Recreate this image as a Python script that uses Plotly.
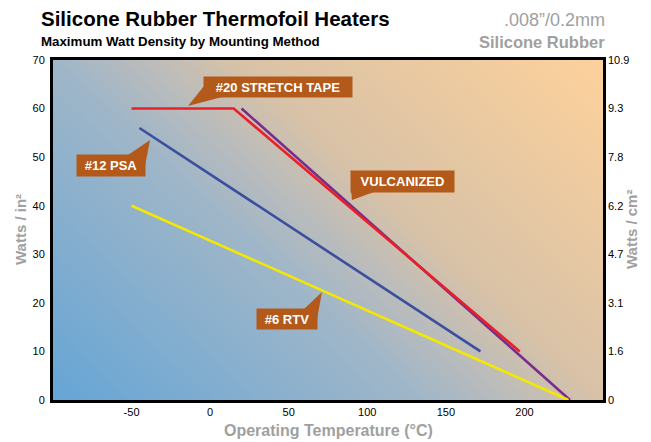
import plotly.graph_objects as go

# ---------------- data ----------------
stretch_x = [-50, 15, 197]
stretch_y = [60, 60, 10]
vulc_x = [20, 229]
vulc_y = [60, 0]
psa_x = [-45, 172]
psa_y = [56, 10]
rtv_x = [-50, 228]
rtv_y = [40, 0]

x_ticks = [-50, 0, 50, 100, 150, 200]
x_labels = ["-50", "0", "50", "100", "150", "200"]
y_ticks = [0, 10, 20, 30, 40, 50, 60, 70]
cm_labels = ["0", "1.6", "3.1", "4.7", "6.2", "7.8", "9.3", "10.9"]

# ---------------- layout geometry (page pixels) ----------------
OFF = 8                      # default body margin of the page
W, H = 651, 442              # window
PL, PR, PT, PB = 53, 603, 60, 400   # plot area in page pixels
X0, X1 = -100, 250
Y0, Y1 = 0, 70
PW, PH = PR - PL, PB - PT

def dx(px):
    return X0 + (px - PL) * (X1 - X0) / PW

def dy(py):
    return Y0 + (PB - py) * (Y1 - Y0) / PH

def paper_x(px):
    return (px - PL) / PW

def paper_y(py):
    return (PB - py) / PH

FONT = "Liberation Sans, Arial, sans-serif"
BROWN = "#b35a1a"
GRAY = "#a0a0a0"

fig = go.Figure()

# gradient background
fig.add_trace(go.Heatmap(
    x=[X0, X1], y=[Y0, Y1], z=[[0, 0.6], [0.4, 1.0]],
    zsmooth="best", showscale=False, hoverinfo="skip",
    colorscale=[[0, "#66a5d6"], [0.4, "#9fb6c8"], [0.5, "#bbbcbb"],
                [0.6, "#d8c2a7"], [1, "#fed19b"]],
    zmin=0, zmax=1,
))

line_w = 2.6
fig.add_trace(go.Scatter(x=vulc_x, y=vulc_y, mode="lines",
                         line=dict(color="#7a2c8c", width=line_w), name="Vulcanized"))
fig.add_trace(go.Scatter(x=stretch_x, y=stretch_y, mode="lines",
                         line=dict(color="#e8202a", width=line_w), name="#20 Stretch Tape"))
fig.add_trace(go.Scatter(x=psa_x, y=psa_y, mode="lines",
                         line=dict(color="#3a4f9f", width=line_w), name="#12 PSA"))
fig.add_trace(go.Scatter(x=rtv_x, y=rtv_y, mode="lines",
                         line=dict(color="#f5e800", width=line_w), name="#6 RTV"))

# callout labels: (text, box left, top, right, bottom, triangle pts in page px)
callouts = [
    ("#20 STRETCH TAPE", 204, 77, 352, 97, [(204, 86), (222, 97), (188, 106)]),
    ("#12 PSA", 77, 155, 145, 176, [(128, 155), (145, 166), (150, 140)]),
    ("VULCANIZED", 351, 171, 454, 192, [(351, 190), (374, 192), (352, 200)]),
    ("#6 RTV", 257, 309, 317, 329, [(304, 309), (317, 319), (322, 292)]),
]
shapes = []
annotations = []
for text, l, t, r, b, tri in callouts:
    path = "M {} {} L {} {} L {} {} Z".format(
        dx(tri[0][0]), dy(tri[0][1]), dx(tri[1][0]), dy(tri[1][1]),
        dx(tri[2][0]), dy(tri[2][1]))
    shapes.append(dict(type="path", path=path, xref="x", yref="y",
                       fillcolor=BROWN, line=dict(width=0), layer="above"))
    annotations.append(dict(
        text="<b>%s</b>" % text, x=dx((l + r) / 2), y=dy((t + b) / 2),
        xref="x", yref="y", showarrow=False, xanchor="center", yanchor="middle",
        width=r - l, height=b - t, bgcolor=BROWN, borderpad=0,
        font=dict(family=FONT, size=13, color="white")))

# titles
annotations += [
    dict(text="<b>Silicone Rubber Thermofoil Heaters</b>", xref="paper", yref="paper",
         x=paper_x(39), y=paper_y(19), xanchor="left", yanchor="middle",
         showarrow=False, font=dict(family=FONT, size=20.5, color="black")),
    dict(text="<b>Maximum Watt Density by Mounting Method</b>", xref="paper", yref="paper",
         x=paper_x(39), y=paper_y(42), xanchor="left", yanchor="middle",
         showarrow=False, font=dict(family=FONT, size=13.3, color="black")),
    dict(text=".008\u201d/0.2mm", xref="paper", yref="paper",
         x=paper_x(607), y=paper_y(20), xanchor="right", yanchor="middle",
         showarrow=False, font=dict(family=FONT, size=18, color=GRAY)),
    dict(text="<b>Silicone Rubber</b>", xref="paper", yref="paper",
         x=paper_x(607), y=paper_y(42), xanchor="right", yanchor="middle",
         showarrow=False, font=dict(family=FONT, size=16.5, color=GRAY)),
    dict(text="<b>Watts / in\u00b2</b>", xref="paper", yref="paper",
         x=paper_x(20), y=0.5, xanchor="center", yanchor="middle", textangle=-90,
         showarrow=False, font=dict(family=FONT, size=15, color=GRAY)),
    dict(text="<b>Watts / cm\u00b2</b>", xref="paper", yref="paper",
         x=paper_x(631), y=0.5, xanchor="center", yanchor="middle", textangle=-90,
         showarrow=False, font=dict(family=FONT, size=15, color=GRAY)),
    dict(text="<b>Operating Temperature (\u00b0C)</b>", xref="paper", yref="paper",
         x=0.5, y=paper_y(431), xanchor="center", yanchor="middle",
         showarrow=False, font=dict(family=FONT, size=16, color=GRAY)),
]

fig.update_layout(
    width=W - OFF, height=H - OFF,
    margin=dict(l=PL - OFF, r=W - PR, t=PT - OFF, b=H - PB, pad=0),
    paper_bgcolor="white", plot_bgcolor="white",
    showlegend=False,
    font=dict(family=FONT, size=11, color="black"),
    shapes=shapes, annotations=annotations,
    xaxis=dict(range=[X0, X1], tickvals=x_ticks, ticktext=x_labels, showgrid=True,
               gridcolor="black", gridwidth=1.3, zeroline=False, showline=True,
               linecolor="black", linewidth=3, mirror=True, ticks="",
               ticklabelstandoff=0,
               tickfont=dict(family=FONT, size=11, color="black")),
    yaxis=dict(range=[Y0, Y1], tickvals=y_ticks, showgrid=True, gridcolor="black",
               gridwidth=1.3, zeroline=False, showline=True, linecolor="black",
               linewidth=3, mirror=True, ticks="", ticklabelstandoff=3,
               tickfont=dict(family=FONT, size=11, color="black")),
    yaxis2=dict(range=[Y0, Y1], tickvals=y_ticks, ticktext=cm_labels, overlaying="y",
                side="right", showgrid=False, zeroline=False, showline=False,
                ticks="", ticklabelstandoff=4,
                tickfont=dict(family=FONT, size=11, color="black")),
)
fig.add_trace(go.Scatter(x=[None], y=[None], yaxis="y2", showlegend=False, hoverinfo="skip"))

fig.write_html("out.html")
